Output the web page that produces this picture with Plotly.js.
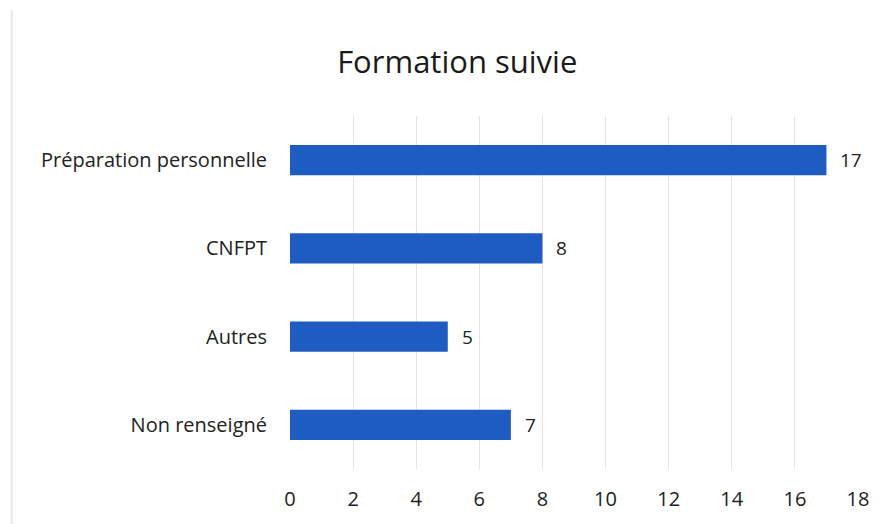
<!DOCTYPE html>
<html>
<head>
<meta charset="utf-8">
<script src="https://cdn.plot.ly/plotly-3.0.1.min.js"></script>
<style>html,body{margin:0;padding:0;background:#fff;}#chart{width:893px;height:524px;}</style>
</head>
<body>
<div id="chart"></div>
<script>
const categories = ["Préparation personnelle", "CNFPT", "Autres", "Non renseigné"];
const values = [17, 8, 5, 7];
const xTicks = [0, 2, 4, 6, 8, 10, 12, 14, 16, 18];
const chartTitle = "Formation suivie";

const font = "Open Sans, Noto Sans, DejaVu Sans, sans-serif";

const trace = {
  type: "bar",
  orientation: "h",
  x: values,
  y: categories,
  marker: {color: "#1f5cc2"},
  width: 0.34,
  hoverinfo: "none"
};

const annotations = values.map((v, i) => ({
  x: v, y: categories[i], xref: "x", yref: "y",
  text: String(v), showarrow: false, xanchor: "left", xshift: 12,
  font: {family: font, size: 19, color: "#222"}
}));

const layout = {
  width: 893, height: 524,
  margin: {l: 290, r: 35, t: 116, b: 55},
  paper_bgcolor: "#fff", plot_bgcolor: "#fff",
  title: {text: chartTitle, x: 0.512, xanchor: "center", y: 0.882, yanchor: "middle",
          font: {family: font, size: 31, color: "#1a1a1a"}},
  xaxis: {range: [0, 18], tickvals: xTicks, showgrid: true, gridcolor: "#e4e4e4", gridwidth: 1,
          zeroline: false, showline: false, ticks: "", ticklabelstandoff: 16,
          tickfont: {family: font, size: 20, color: "#222"}, fixedrange: true},
  yaxis: {categoryorder: "array", categoryarray: categories.slice().reverse(),
          showgrid: false, zeroline: false, showline: false, ticks: "", ticklabelstandoff: 22,
          tickfont: {family: font, size: 20, color: "#222"}, fixedrange: true},
  annotations: annotations,
  shapes: [
    {type: "line", xref: "x domain", yref: "paper", x0: -0.49, x1: -0.49, y0: -0.2, y1: 1.3, line: {color: "#e6e6e6", width: 2}}
  ],
  showlegend: false,
  bargap: 0.66
};

Plotly.newPlot("chart", [trace], layout, {displayModeBar: false, staticPlot: true});
</script>
</body>
</html>
